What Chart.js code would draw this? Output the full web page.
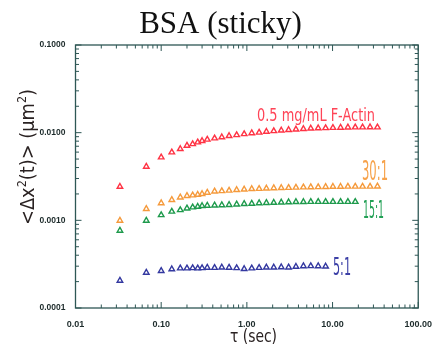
<!DOCTYPE html>
<html>
<head>
<meta charset="utf-8">
<script src="https://cdn.jsdelivr.net/npm/chart.js@4.4.1/dist/chart.umd.min.js"></script>
<style>
html, body { margin: 0; padding: 0; background: #fff; }
</style>
</head>
<body>
<canvas id="msdChart" width="435" height="347"></canvas>
<script>
// lag time tau (sec)
const tau = [0.033, 0.067, 0.1, 0.133, 0.167, 0.2, 0.233, 0.267, 0.3,
    0.345, 0.42, 0.51, 0.62, 0.76, 0.93, 1.14, 1.39, 1.69, 2.06,
    2.52, 3.07, 3.74, 4.57, 5.57, 6.8, 8.3, 10.1, 12.4, 15.1, 18.4,
    22.4, 27.4, 33.4];

// MSD (um^2) per sample
const actin = [0.00242, 0.0041, 0.00524, 0.00598, 0.00652, 0.00711, 0.00743, 0.00777, 0.00804,
    0.00836, 0.00863, 0.00888, 0.00917, 0.00941, 0.00966, 0.00987, 0.01005, 0.01026, 0.01045,
    0.0106, 0.01074, 0.01088, 0.01102, 0.01117, 0.01125, 0.01131,
    0.01137, 0.01143, 0.01149, 0.01152, 0.01152, 0.01155, 0.01152];
const ratio30 = [0.000992, 0.00135, 0.00157, 0.00171, 0.00183, 0.0019, 0.00193, 0.00196, 0.002,
    0.00207, 0.00214, 0.00216, 0.00219, 0.00222, 0.00225, 0.00228, 0.00229, 0.00231, 0.00233,
    0.00234, 0.00235, 0.00237, 0.00238, 0.00239, 0.0024, 0.00241,
    0.00242, 0.00242, 0.00243, 0.00243, 0.00243, 0.00243, 0.00244];
const ratio15 = [0.000763, 0.000992, 0.00115, 0.00126, 0.00131, 0.00137, 0.00141, 0.00143, 0.00146,
    0.00147, 0.00148, 0.00149, 0.0015, 0.00152, 0.00154, 0.00155, 0.00157, 0.00158, 0.00159,
    0.0016, 0.00161, 0.00162, 0.00162, 0.00163, 0.00163, 0.00163,
    0.00163, 0.00163, 0.00163, 0.00163];
const ratio5 = [0.000205, 0.000253, 0.000265, 0.000277, 0.000284, 0.000284, 0.000286, 0.000284, 0.000286,
    0.000289, 0.000288, 0.00029, 0.000289, 0.000286, 0.000279, 0.000284, 0.000288, 0.00029, 0.00029,
    0.000292, 0.000291, 0.000296, 0.0003, 0.000301, 0.0003, 0.000298];

const xTicks = [0.01, 0.1, 1, 10, 100];
const yTicks = [0.0001, 0.001, 0.01, 0.1];

const pts = vals => vals.map((v, i) => ({ x: tau[i], y: v }));

const condFont = '"Liberation Sans Narrow", "DejaVu Sans Condensed", "DejaVu Sans", sans-serif';

// draw text squeezed to a given width, x = left edge, y = baseline
function fitText(ctx, text, x, y, w, size, color) {
    ctx.save();
    ctx.font = size + 'px ' + condFont;
    const m = ctx.measureText(text).width;
    ctx.translate(x, y);
    ctx.scale(w / m, 1);
    ctx.fillStyle = color;
    ctx.textAlign = 'left';
    ctx.textBaseline = 'alphabetic';
    ctx.fillText(text, 0, 0);
    ctx.restore();
}

const decor = {
    id: 'decor',
    afterDraw(chart) {
        const { ctx, chartArea: a, scales: { x, y } } = chart;
        ctx.save();

        // frame + inward ticks on all four sides
        ctx.strokeStyle = '#2e5755';
        ctx.lineWidth = 1.3;
        ctx.strokeRect(a.left, a.top, a.right - a.left, a.bottom - a.top);
        ctx.lineWidth = 1;
        ctx.beginPath();
        for (let e = -2; e <= 2; e++) {
            for (let k = 1; k <= 9; k++) {
                const v = k * Math.pow(10, e);
                if (v > 100.0001) continue;
                const px = x.getPixelForValue(v);
                const len = k === 1 ? 6 : 3.5;
                ctx.moveTo(px, a.bottom); ctx.lineTo(px, a.bottom - len);
                ctx.moveTo(px, a.top); ctx.lineTo(px, a.top + len);
            }
        }
        for (let e = -4; e <= -1; e++) {
            for (let k = 1; k <= 9; k++) {
                const v = k * Math.pow(10, e);
                if (v > 0.10001) continue;
                const py = y.getPixelForValue(v);
                const len = k === 1 ? 6 : 3.5;
                ctx.moveTo(a.left, py); ctx.lineTo(a.left + len, py);
                ctx.moveTo(a.right, py); ctx.lineTo(a.right - len, py);
            }
        }
        ctx.stroke();

        // title
        ctx.fillStyle = '#111';
        ctx.font = '31px "Liberation Serif", "Times New Roman", serif';
        ctx.textAlign = 'center';
        ctx.textBaseline = 'alphabetic';
        ctx.fillText('BSA (sticky)', 220.5, 33);

        // series labels
        fitText(ctx, '0.5 mg/mL F-Actin', 257, 121, 118, 17, '#ff4457');
        fitText(ctx, '30:1', 362, 180, 26, 26, '#f7a24a');
        fitText(ctx, '15:1', 363, 218, 21, 25, '#22a055');
        fitText(ctx, '5:1', 333, 275, 18, 25, '#3b3fa6');

        // x axis title
        fitText(ctx, 'τ (sec)', 230, 342, 47, 18, '#2a2222');

        // y axis title, rotated, with superscripts
        const segs = [['<Δx', 0], ['2', 1], ['(t)> (μm', 0], ['2', 1], [')', 0]];
        const big = 19, small = 12;
        let total = 0;
        const widths = segs.map(([t, sup]) => {
            ctx.font = (sup ? small : big) + 'px ' + condFont;
            const w = ctx.measureText(t).width;
            total += w;
            return w;
        });
        const target = 136;
        ctx.translate(34, 157);
        ctx.rotate(-Math.PI / 2);
        ctx.scale(target / total, 1);
        ctx.fillStyle = '#2a2222';
        ctx.textAlign = 'left';
        let cx = -total / 2;
        segs.forEach(([t, sup], i) => {
            ctx.font = (sup ? small : big) + 'px ' + condFont;
            ctx.fillText(t, cx, sup ? -8 : 0);
            cx += widths[i];
        });
        ctx.restore();
    }
};

const tri = (label, vals, color) => ({
    label: label,
    data: pts(vals),
    showLine: false,
    pointStyle: 'triangle',
    pointRadius: 3.2,
    pointBorderWidth: 1.4,
    borderColor: color,
    backgroundColor: 'rgba(255,255,255,0)'
});

new Chart(document.getElementById('msdChart'), {
    type: 'scatter',
    data: {
        datasets: [
            tri('0.5 mg/mL F-Actin', actin, '#ff3344'),
            tri('30:1', ratio30, '#f59a3c'),
            tri('15:1', ratio15, '#1e9a4c'),
            tri('5:1', ratio5, '#3338a0')
        ]
    },
    options: {
        responsive: false,
        animation: false,
        devicePixelRatio: 1,
        layout: { padding: { left: 0, right: 14, top: 45, bottom: 0 } },
        plugins: { legend: { display: false }, tooltip: { enabled: false } },
        scales: {
            x: {
                type: 'logarithmic',
                min: 0.01,
                max: 100,
                afterFit: s => { s.height = 39; },
                afterBuildTicks: s => { s.ticks = xTicks.map(v => ({ value: v })); },
                grid: { display: false },
                border: { display: false },
                ticks: {
                    autoSkip: false,
                    maxRotation: 0,
                    padding: 3,
                    color: '#1d2b2b',
                    font: { family: '"Liberation Sans", Arial, sans-serif', size: 9, weight: 'bold' },
                    callback: v => v.toFixed(2)
                }
            },
            y: {
                type: 'logarithmic',
                min: 0.0001,
                max: 0.1,
                afterFit: s => { s.width = 75.5; },
                afterBuildTicks: s => { s.ticks = yTicks.map(v => ({ value: v })); },
                grid: { display: false },
                border: { display: false },
                ticks: {
                    autoSkip: false,
                    padding: 2,
                    color: '#1d2b2b',
                    font: { family: '"Liberation Sans", Arial, sans-serif', size: 8.5, weight: 'bold' },
                    callback: v => v.toFixed(4)
                }
            }
        }
    },
    plugins: [decor]
});
</script>
</body>
</html>
